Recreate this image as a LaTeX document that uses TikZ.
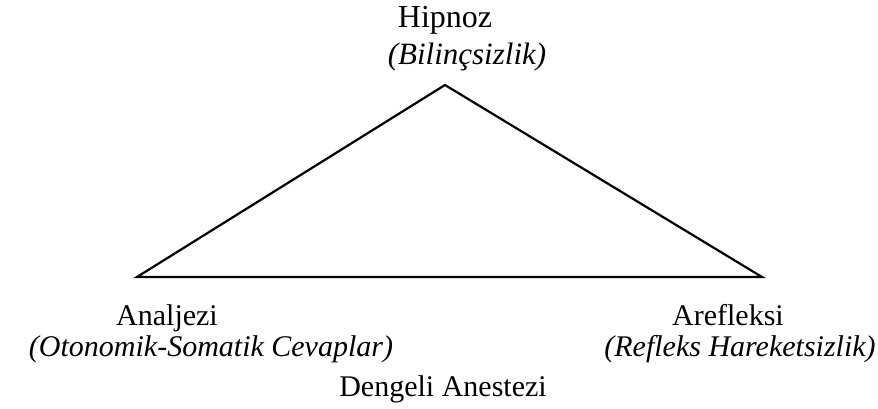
\documentclass[tikz,border=0pt]{standalone}
\usepackage{fontspec}
\setmainfont{Liberation Serif}
\begin{document}
\begin{tikzpicture}[x=1pt,y=-1pt,
  lbl/.style={font=\fontsize{30}{32}\selectfont, inner sep=0pt, anchor=base},
  sub/.style={font=\fontsize{30}{32}\selectfont\itshape, inner sep=0pt, anchor=base},
  edge/.style={line width=2.2pt, line join=miter}]
\useasboundingbox (0,0) rectangle (878,409);
\coordinate (top) at (445,85);
\coordinate (left) at (137,277);
\coordinate (right) at (762,277);
\draw[edge] (top) -- (right) -- (left) -- cycle;
\node[lbl, font=\fontsize{32}{34}\selectfont] (hip) at (445,28) {Hipnoz};
\node[sub, font=\fontsize{31}{33}\selectfont\itshape] (bil) at (467,65) {(Bilinçsizlik)};
\node[lbl] (ana) at (167,325) {Analjezi};
\node[sub] (oto) at (211,356) {(Otonomik-Somatik Cevaplar)};
\node[lbl] (are) at (728,325) {Arefleksi};
\node[sub] (ref) at (740,356) {(Refleks Hareketsizlik)};
\node[lbl] (den) at (443,396) {Dengeli Anestezi};
\end{tikzpicture}
\end{document}
